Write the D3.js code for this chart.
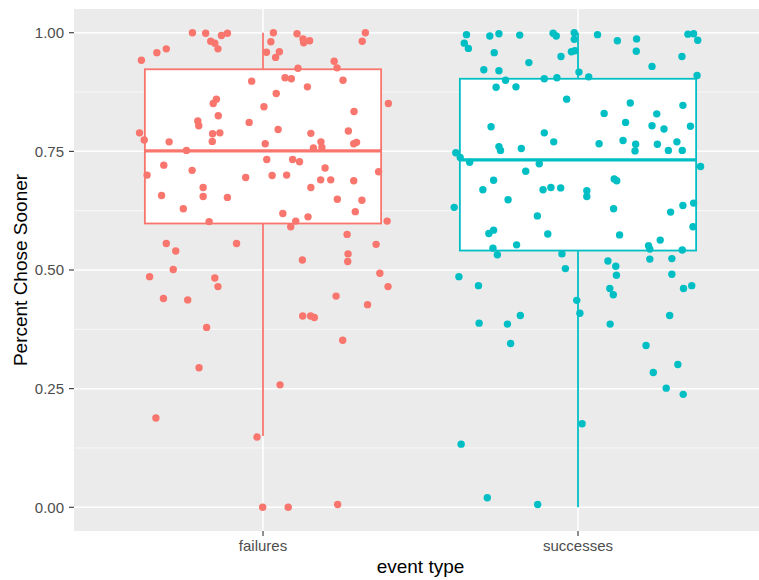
<!DOCTYPE html>
<html>
<head>
<meta charset="utf-8">
<script src="https://cdn.jsdelivr.net/npm/d3@7"></script>
<style>
  body { margin: 0; background: #fff; }
  svg { display: block; font-family: "Liberation Sans", Arial, sans-serif; }
</style>
</head>
<body>
<svg id="chart"></svg>
<script>
// categories and colours
const categories = ['failures', 'successes'];
const colors = ['#F8766D', '#00BFC4'];

// box stats: [lowWhisker, q1, median, q3, highWhisker]
const boxFailures = [0.150, 0.598, 0.751, 0.923, 1.00];
const boxSuccesses = [0.00, 0.541, 0.732, 0.903, 1.00];

// jittered points: [jitter offset (category units), value]
const failures = [
  [-0.224, 1.000], [-0.182, 0.999], [-0.166, 0.982], [-0.153, 0.978], [-0.143, 0.966],
  [-0.132, 0.994], [-0.113, 0.999], [0.033, 1.000], [0.025, 0.981], [0.011, 0.959],
  [0.040, 0.948], [0.052, 0.960], [0.108, 0.998], [0.127, 0.987], [0.129, 0.979],
  [0.148, 0.983], [0.325, 1.000], [0.315, 0.982], [-0.386, 0.942], [-0.337, 0.958],
  [-0.307, 0.966], [0.226, 0.940], [0.235, 0.926], [0.111, 0.925], [-0.036, 0.898],
  [0.070, 0.905], [0.090, 0.903], [0.141, 0.886], [0.254, 0.900], [0.042, 0.872],
  [0.398, 0.851], [-0.148, 0.860], [-0.158, 0.851], [-0.142, 0.825], [0.003, 0.844],
  [0.289, 0.834], [-0.207, 0.814], [-0.204, 0.804], [-0.044, 0.811], [0.048, 0.796],
  [0.152, 0.788], [0.271, 0.793], [-0.392, 0.789], [-0.377, 0.774], [-0.298, 0.770],
  [-0.160, 0.787], [-0.137, 0.789], [-0.161, 0.771], [0.007, 0.766], [0.184, 0.770],
  [0.288, 0.766], [0.297, 0.769], [0.160, 0.757], [0.187, 0.758], [-0.243, 0.752],
  [-0.368, 0.700], [-0.315, 0.721], [-0.225, 0.710], [0.012, 0.733], [0.094, 0.733],
  [0.116, 0.728], [0.197, 0.715], [0.367, 0.707], [-0.055, 0.695], [0.029, 0.699],
  [0.075, 0.700], [0.183, 0.690], [0.215, 0.690], [0.288, 0.688], [-0.322, 0.657],
  [-0.190, 0.674], [-0.190, 0.655], [-0.113, 0.653], [0.152, 0.674], [0.236, 0.649],
  [0.314, 0.647], [-0.253, 0.629], [0.063, 0.619], [0.143, 0.612], [0.293, 0.623],
  [-0.171, 0.602], [0.088, 0.591], [0.104, 0.603], [0.394, 0.603], [0.267, 0.575],
  [-0.307, 0.556], [-0.277, 0.540], [-0.084, 0.556], [0.359, 0.554], [0.125, 0.521],
  [0.270, 0.534], [0.269, 0.518], [-0.285, 0.501], [0.371, 0.493], [-0.360, 0.486],
  [-0.153, 0.483], [-0.143, 0.465], [0.397, 0.465], [-0.316, 0.440], [-0.239, 0.437],
  [0.232, 0.445], [0.332, 0.427], [0.126, 0.403], [0.151, 0.403], [0.163, 0.400],
  [-0.179, 0.379], [0.253, 0.352], [-0.203, 0.294], [0.054, 0.258], [-0.340, 0.188],
  [-0.019, 0.148], [-0.001, 0.000], [0.080, 0.000], [0.237, 0.006]
];

const successes = [
  [-0.354, 0.996], [-0.280, 0.993], [-0.251, 0.998], [-0.185, 0.995], [-0.079, 0.999],
  [-0.069, 0.993], [-0.012, 1.000], [-0.012, 0.986], [0.062, 0.996], [0.125, 0.983],
  [0.186, 0.987], [0.349, 0.997], [0.367, 0.998], [0.380, 0.984], [-0.361, 0.978],
  [-0.348, 0.967], [-0.266, 0.958], [-0.156, 0.937], [-0.054, 0.950], [-0.021, 0.960],
  [-0.010, 0.962], [0.185, 0.961], [0.330, 0.950], [0.235, 0.929], [-0.299, 0.922],
  [-0.251, 0.920], [-0.230, 0.900], [-0.107, 0.903], [-0.067, 0.905], [0.003, 0.917],
  [0.034, 0.907], [0.378, 0.910], [-0.260, 0.885], [-0.197, 0.886], [-0.036, 0.860],
  [0.166, 0.852], [0.333, 0.847], [0.083, 0.830], [0.250, 0.829], [0.151, 0.811],
  [-0.276, 0.802], [0.235, 0.804], [0.273, 0.797], [0.357, 0.803], [-0.107, 0.789],
  [-0.077, 0.770], [0.067, 0.766], [0.143, 0.773], [0.183, 0.765], [0.181, 0.751],
  [0.252, 0.765], [0.287, 0.752], [0.314, 0.770], [0.331, 0.752], [-0.251, 0.760],
  [-0.246, 0.752], [-0.180, 0.756], [-0.388, 0.747], [-0.374, 0.737], [-0.344, 0.727],
  [-0.123, 0.724], [0.389, 0.718], [-0.166, 0.708], [-0.268, 0.689], [-0.302, 0.669],
  [0.115, 0.692], [0.123, 0.688], [-0.111, 0.669], [-0.086, 0.674], [-0.055, 0.673],
  [0.028, 0.667], [0.028, 0.655], [-0.222, 0.648], [-0.393, 0.632], [0.113, 0.629],
  [0.367, 0.641], [0.333, 0.636], [0.294, 0.622], [-0.129, 0.614], [0.365, 0.591],
  [-0.283, 0.577], [-0.268, 0.584], [-0.096, 0.576], [0.132, 0.574], [0.261, 0.563],
  [-0.195, 0.553], [0.224, 0.551], [0.228, 0.544], [-0.270, 0.546], [-0.256, 0.532],
  [-0.051, 0.534], [0.331, 0.542], [0.095, 0.519], [0.120, 0.508], [0.228, 0.523],
  [0.298, 0.524], [-0.040, 0.503], [-0.378, 0.486], [0.122, 0.489], [0.298, 0.491],
  [-0.316, 0.467], [0.101, 0.461], [0.112, 0.448], [0.335, 0.461], [0.361, 0.467],
  [-0.004, 0.436], [0.006, 0.409], [-0.314, 0.388], [-0.224, 0.386], [-0.183, 0.404],
  [0.102, 0.386], [0.291, 0.404], [-0.214, 0.345], [0.216, 0.341], [0.317, 0.301],
  [0.239, 0.284], [0.280, 0.251], [0.334, 0.238], [0.013, 0.176], [-0.371, 0.133],
  [-0.288, 0.020], [-0.128, 0.006]
];

const yTicks = [0, 0.25, 0.5, 0.75, 1];
const yMinor = [0.125, 0.375, 0.625, 0.875];

const width = 759, height = 580;
const panel = { left: 74, top: 9, right: 767, bottom: 531 };

const svg = d3.select('#chart').attr('width', width).attr('height', height);

svg.append('rect').attr('width', width).attr('height', height).attr('fill', '#fff');

const x = d3.scalePoint().domain(categories).range([panel.left, panel.right]).padding(0.6);
const step = x.step();
const y = d3.scaleLinear().domain([-0.05, 1.05]).range([panel.bottom, panel.top]);

// panel background
svg.append('rect')
  .attr('x', panel.left).attr('y', panel.top)
  .attr('width', panel.right - panel.left).attr('height', panel.bottom - panel.top)
  .attr('fill', '#EBEBEB');

// grid
const grid = svg.append('g');
grid.selectAll('line.minor').data(yMinor).join('line')
  .attr('x1', panel.left).attr('x2', panel.right)
  .attr('y1', d => y(d)).attr('y2', d => y(d))
  .attr('stroke', '#fff').attr('stroke-width', 0.7);
grid.selectAll('line.major').data(yTicks).join('line')
  .attr('x1', panel.left).attr('x2', panel.right)
  .attr('y1', d => y(d)).attr('y2', d => y(d))
  .attr('stroke', '#fff').attr('stroke-width', 1.5);
grid.selectAll('line.vmajor').data(categories).join('line')
  .attr('x1', d => x(d)).attr('x2', d => x(d))
  .attr('y1', panel.top).attr('y2', panel.bottom)
  .attr('stroke', '#fff').attr('stroke-width', 1.5);

// boxplots
const boxes = [
  { cat: categories[0], stats: boxFailures, color: colors[0] },
  { cat: categories[1], stats: boxSuccesses, color: colors[1] }
];
const boxW = step * 0.75;

boxes.forEach(b => {
  const cx = x(b.cat);
  const [lo, q1, med, q3, hi] = b.stats;
  const g = svg.append('g');
  g.append('line').attr('x1', cx).attr('x2', cx).attr('y1', y(q3)).attr('y2', y(hi))
    .attr('stroke', b.color).attr('stroke-width', 1.8);
  g.append('line').attr('x1', cx).attr('x2', cx).attr('y1', y(q1)).attr('y2', y(lo))
    .attr('stroke', b.color).attr('stroke-width', 1.8);
  g.append('rect')
    .attr('x', cx - boxW / 2).attr('y', y(q3))
    .attr('width', boxW).attr('height', y(q1) - y(q3))
    .attr('fill', '#fff').attr('stroke', b.color).attr('stroke-width', 1.8);
  g.append('line').attr('x1', cx - boxW / 2).attr('x2', cx + boxW / 2)
    .attr('y1', y(med)).attr('y2', y(med))
    .attr('stroke', b.color).attr('stroke-width', 3.2);
});

// jittered points
const series = [
  { cat: categories[0], pts: failures, color: colors[0] },
  { cat: categories[1], pts: successes, color: colors[1] }
];
series.forEach(s => {
  svg.append('g').selectAll('circle').data(s.pts).join('circle')
    .attr('cx', d => x(s.cat) + d[0] * step)
    .attr('cy', d => y(d[1]))
    .attr('r', 3.7)
    .attr('fill', s.color);
});

// y axis
const yAxis = svg.append('g');
yAxis.selectAll('line').data(yTicks).join('line')
  .attr('x1', panel.left - 5).attr('x2', panel.left)
  .attr('y1', d => y(d)).attr('y2', d => y(d))
  .attr('stroke', '#333').attr('stroke-width', 1.1);
yAxis.selectAll('text').data(yTicks).join('text')
  .attr('x', panel.left - 10).attr('y', d => y(d))
  .attr('dy', '0.36em').attr('text-anchor', 'end')
  .attr('font-size', 15).attr('fill', '#4D4D4D')
  .text(d => d3.format('.2f')(d));

// x axis
const xAxis = svg.append('g');
xAxis.selectAll('line').data(categories).join('line')
  .attr('x1', d => x(d)).attr('x2', d => x(d))
  .attr('y1', panel.bottom).attr('y2', panel.bottom + 5)
  .attr('stroke', '#333').attr('stroke-width', 1.1);
xAxis.selectAll('text').data(categories).join('text')
  .attr('x', d => x(d)).attr('y', panel.bottom + 20)
  .attr('text-anchor', 'middle')
  .attr('font-size', 15).attr('fill', '#4D4D4D')
  .text(d => d);

// axis titles
svg.append('text')
  .attr('x', (panel.left + panel.right) / 2).attr('y', 573)
  .attr('text-anchor', 'middle').attr('font-size', 19).attr('fill', '#000')
  .text('event type');

svg.append('text')
  .attr('transform', `translate(27,${(panel.top + panel.bottom) / 2}) rotate(-90)`)
  .attr('text-anchor', 'middle').attr('font-size', 19).attr('fill', '#000')
  .text('Percent Chose Sooner');
</script>
</body>
</html>
